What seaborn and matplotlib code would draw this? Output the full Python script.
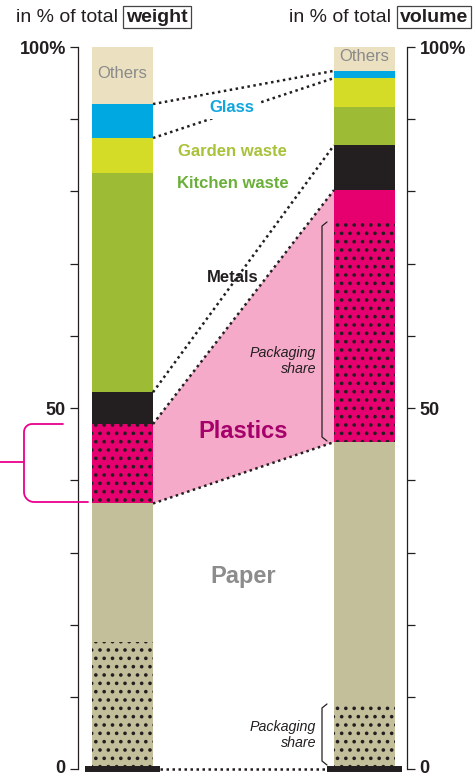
import numpy as np
import pandas as pd
import matplotlib
matplotlib.use('Agg')
import matplotlib.pyplot as plt
import matplotlib.transforms as mtransforms
import seaborn as sns

sns.set_style('white')
plt.rcParams['font.family'] = ['Liberation Sans', 'DejaVu Sans']
plt.rcParams['hatch.linewidth'] = 1.4
plt.rcParams['hatch.color'] = '#231F20'

# data (in %)
measures = ['weight', 'volume']
categories = ['Paper', 'Plastics', 'Metals', 'Kitchen waste', 'Garden waste', 'Glass', 'Others']
weight_share = [36.8, 11.0, 4.4, 30.3, 4.9, 4.7, 7.9]
volume_share = [45.3, 34.9, 6.2, 5.3, 4.0, 1.0, 3.3]
paper_packaging = [17.6, 9.2]      # weight, volume
plastics_packaging = [11.0, 30.6]  # weight, volume

bar_colors = {'Paper': '#C3BF9A', 'Plastics': '#E6006F', 'Metals': '#231F20',
              'Kitchen waste': '#9DBB34', 'Garden waste': '#D4DC27',
              'Glass': '#00A8E2', 'Others': '#EBE1C1'}
label_colors = {'Glass': '#12A6DF', 'Garden waste': '#A8C23A',
                'Kitchen waste': '#6BAF3B', 'Metals': '#231F20'}
dark = '#231F20'
pink = '#F4AAC8'

df = pd.DataFrame({'category': categories, 'weight': weight_share, 'volume': volume_share})
cum = df[['weight', 'volume']].cumsum()

# layout helpers (pixel -> data)
def px_x(p):
    return (np.asarray(p, dtype=float) - 122.5) / 242

def px_y(p):
    return (769.3 - np.asarray(p, dtype=float)) / 7.223

bw = 61 / 242

fig = plt.figure(figsize=(4.76, 7.78), dpi=100)
ax = fig.add_axes([0, 0, 1, 1])

# stacked bars: draw cumulative totals from top down
for i in reversed(range(len(categories))):
    cat = categories[i]
    sns.barplot(x=measures, y=cum.iloc[i].values, order=measures, color=bar_colors[cat],
                width=bw, saturation=1, errorbar=None, linewidth=0, ax=ax, zorder=2)
    if cat == 'Plastics':
        tops = cum.iloc[0].values + np.array(plastics_packaging)
        sns.barplot(x=measures, y=tops, order=measures, color=bar_colors[cat],
                    width=bw, saturation=1, errorbar=None, linewidth=0,
                    hatch='..', edgecolor=dark, ax=ax, zorder=2)
# paper packaging share
sns.barplot(x=measures, y=paper_packaging, order=measures, color=bar_colors['Paper'],
            width=bw, saturation=1, errorbar=None, linewidth=0,
            hatch='..', edgecolor=dark, ax=ax, zorder=2)

# connecting band for plastics
bx0, bx1 = 0 + bw / 2, 1 - bw / 2
cw, cv = cum['weight'].values, cum['volume'].values
ax.fill([bx0, bx1, bx1, bx0], [cw[1], cv[1], cv[0], cw[0]], color=pink, lw=0, zorder=1)

# dotted connectors
for idx in [5, 4, 2, 1, 0]:
    ax.plot([bx0, bx1], [cw[idx], cv[idx]], color=dark, lw=1.8,
            linestyle=(0, (1, 1.4)), zorder=3)
base_half = 37.5 / 242
ax.plot([base_half, 1 - base_half], [0, 0], color=dark, lw=1.8,
        linestyle=(0, (1, 1.4)), zorder=3)
for x in [0, 1]:
    ax.plot([x - base_half, x + base_half], [0, 0], color=dark, lw=4.3,
            solid_capstyle='butt', zorder=4)

# labels in the middle
ax.text(px_x(232), px_y(107), 'Glass', ha='center', va='center', fontsize=12,
        fontweight='bold', color=label_colors['Glass'], zorder=5,
        bbox=dict(boxstyle='square,pad=0.25', fc='white', ec='none'))
ax.text(px_x(232), px_y(152), 'Garden waste', ha='center', va='center', fontsize=12,
        fontweight='bold', color=label_colors['Garden waste'])
ax.text(px_x(233), px_y(183), 'Kitchen waste', ha='center', va='center', fontsize=12,
        fontweight='bold', color=label_colors['Kitchen waste'])
ax.text(px_x(233), px_y(278), 'Metals', ha='center', va='center', fontsize=12,
        fontweight='bold', color=label_colors['Metals'])
ax.text(px_x(243), px_y(431), 'Plastics', ha='center', va='center', fontsize=17,
        fontweight='bold', color='#A6006B', zorder=5)
ax.text(px_x(243), px_y(577), 'Paper', ha='center', va='center', fontsize=17,
        fontweight='bold', color='#8C8C8C', zorder=5)

# "Others" inside the bars
for j, m in enumerate(measures):
    ax.text(j, cum[m].iloc[5] + df[m].iloc[6] / 2 + 0.3, 'Others', ha='center', va='center',
            fontsize=12, color='#8A8A8A', zorder=5)

# packaging share brackets
for top, bot, ty in [(222, 441, 361), (704, 765, 735)]:
    ax.plot(px_x([327, 322, 322, 327]), px_y([top, top + 4, bot - 4, bot]),
            color=dark, lw=0.9, zorder=5)
    ax.text(px_x(316), px_y(ty), 'Packaging\nshare', ha='right', va='center',
            style='italic', fontsize=10.3, linespacing=1.15, color=dark, zorder=5)

# magenta bracket at the left
t1 = np.linspace(-np.pi / 2, -np.pi, 10)
t2 = np.linspace(np.pi, np.pi / 2, 10)
bxs = np.concatenate([[63], 32 + 8 * np.cos(t1), 34 + 10 * np.cos(t2), [88]])
bys = np.concatenate([[424], 432 + 8 * np.sin(t1), 492 + 10 * np.sin(t2), [502]])
ax.plot(px_x(bxs), px_y(bys), color='#EC008C', lw=1.3, zorder=5, clip_on=False)
ax.plot(px_x([0, 24]), px_y([462, 462]), color='#EC008C', lw=1.3, zorder=5, clip_on=False)

# axes
ax.set_xlim(px_x(0), px_x(476))
ax.set_ylim(px_y(778), px_y(0))
ax.set_xticks([])
ax.set_xlabel('')
ax.set_ylabel('')
ax.spines['top'].set_visible(False)
ax.spines['bottom'].set_visible(False)
ax.spines['left'].set_position(('data', float(px_x(78))))
ax.spines['right'].set_position(('data', float(px_x(407.3))))
for s in ['left', 'right']:
    ax.spines[s].set_bounds(0, 100)
    ax.spines[s].set_linewidth(0.9)
    ax.spines[s].set_color(dark)
ax.set_yticks(range(0, 101, 10))
ax.set_yticklabels(['0', '', '', '', '', '50', '', '', '', '', '100%'])
ax.tick_params(axis='y', left=True, right=True, labelleft=True, labelright=True,
               length=5.8, width=0.9, color=dark, labelsize=13, pad=3, labelcolor=dark)
for t in ax.yaxis.get_major_ticks():
    t.label1.set_fontweight('bold')
    t.label2.set_fontweight('bold')
# nudge the "0" labels up a little so they stay inside the picture
zero = ax.yaxis.get_major_ticks()[0]
shift = mtransforms.ScaledTranslation(0, 2.5 / 100, fig.dpi_scale_trans)
zero.label1.set_transform(zero.label1.get_transform() + shift)
zero.label2.set_transform(zero.label2.get_transform() + shift)

# headers
fig.text(16 / 476, 1 - 17 / 778, 'in % of total', ha='left', va='center', fontsize=14, color=dark)
fig.text(126 / 476, 1 - 17 / 778, 'weight', ha='left', va='center', fontsize=14,
         fontweight='bold', color=dark,
         bbox=dict(boxstyle='square,pad=0.15', fc='white', ec='#444444', lw=0.9))
fig.text(289 / 476, 1 - 17 / 778, 'in % of total', ha='left', va='center', fontsize=14, color=dark)
fig.text(400 / 476, 1 - 17 / 778, 'volume', ha='left', va='center', fontsize=14,
         fontweight='bold', color=dark,
         bbox=dict(boxstyle='square,pad=0.15', fc='white', ec='#444444', lw=0.9))

fig.savefig('out.png', dpi=100)
